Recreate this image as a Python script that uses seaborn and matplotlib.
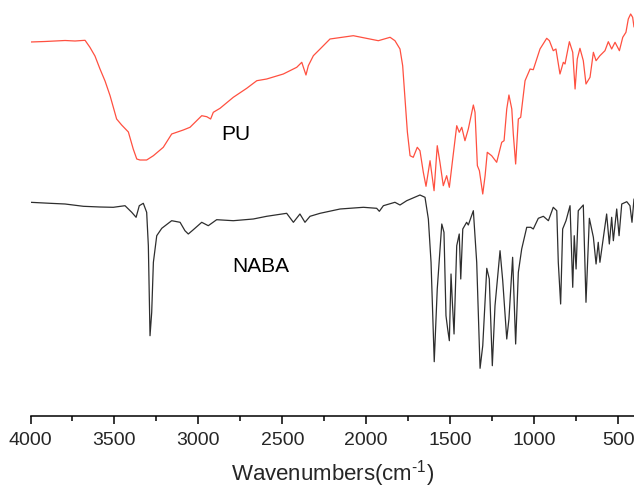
import matplotlib
matplotlib.use("Agg")
import matplotlib.pyplot as plt
import seaborn as sns
import pandas as pd
from matplotlib.ticker import MultipleLocator

# PU spectrum (wavenumber, transmittance a.u.)
pu_wn = [4000, 3914, 3854, 3794, 3735, 3675, 3646, 3616, 3586, 3556, 3526, 3487, 3457, 3417, 3388, 3367,
         3348, 3308, 3268, 3209, 3159, 3090, 3050, 2980, 2950, 2927, 2911, 2871, 2792, 2712,
         2652, 2593, 2494, 2414, 2384, 2371, 2359, 2345, 2315, 2275, 2216, 2077, 1928, 1858,
         1829, 1799, 1783, 1769, 1755, 1739, 1720, 1696, 1680, 1660, 1644, 1620, 1596, 1577,
         1561, 1541, 1521, 1505, 1485, 1461, 1446, 1431, 1412, 1392, 1362, 1352, 1338, 1326,
         1306, 1292, 1279, 1253, 1223, 1193, 1179, 1163, 1150, 1133, 1124, 1110, 1094, 1080,
         1054, 1024, 1005, 965, 925, 909, 886, 870, 846, 826, 816, 790, 770, 756, 743, 727,
         707, 691, 667, 647, 631, 608, 578, 558, 538, 518, 492, 472, 453, 439, 425, 413, 405]
pu_t = [373, 373.5, 374, 374.5, 374, 374.7, 367.7, 359, 346, 334, 319.3, 296, 290, 283, 266, 256,
        255, 255, 259.3, 267.7, 281, 285, 287.7, 299.3, 298.3, 296, 302.7, 306.7, 317.7, 326.7,
        334.3, 336, 341, 347.7, 352.7, 346, 340, 349.3, 359.3, 366, 376, 379.3, 374.3, 377.7,
        374.3, 366, 349.3, 316, 283, 259.3, 257.7, 267.7, 264.3, 242.7, 228.7, 254.3, 224.3, 269.3,
        252.7, 229.3, 239.3, 227.7, 256, 289.3, 282.7, 287.7, 274.3, 286, 310, 302.7, 249.3, 244.3,
        221, 239.3, 262.7, 259.3, 252.7, 272.7, 274.3, 306, 320, 306, 281, 251, 296, 297.7,
        334.3, 346, 345.3, 366, 376.7, 374.3, 364.3, 366, 341, 352.7, 351, 373.3, 362.7, 326, 356, 366.7,
        354.3, 331, 337.7, 362.7, 354.3, 359.3, 364.3, 373.3, 366, 372.7, 364.3, 377.7, 382.7, 396, 401, 397.7, 388]

# NABA spectrum
naba_wn = [4000, 3884, 3794, 3685, 3586, 3507, 3437, 3397, 3371, 3352, 3328, 3308, 3298, 3288,
           3278, 3268, 3248, 3218, 3159, 3109, 3080, 3060, 3030, 2980, 2941, 2891, 2792, 2673,
           2593, 2474, 2434, 2395, 2365, 2335, 2275, 2156, 2017, 1938, 1922, 1898, 1829, 1799,
           1759, 1680, 1650, 1630, 1614, 1595, 1577, 1550, 1537, 1525, 1515, 1505, 1495, 1487,
           1477, 1461, 1446, 1437, 1425, 1402, 1392, 1362, 1342, 1322, 1306, 1282, 1267, 1249,
           1233, 1203, 1187, 1163, 1150, 1128, 1110, 1094, 1074, 1044, 1020, 1005, 975, 945,
           915, 886, 865, 856, 842, 830, 810, 786, 770, 761, 750, 737, 707, 691, 671, 647,
           631, 618, 608, 568, 552, 538, 528, 508, 494, 478, 448, 429, 417, 405]
naba_t = [212.7, 211.7, 211, 208.7, 208, 207.7, 209.3, 202.7, 197.7, 209.3, 211.7, 202.7, 169.3, 79.3,
          102.7, 152.7, 179.3, 186.7, 194.3, 192.7, 184.3, 181, 185.3, 192.7, 189.3, 195.3, 194.3, 196,
          198.7, 201.7, 192.7, 201, 192.7, 198.7, 201.7, 206, 207.7, 206.7, 203.7, 209.3, 212.7, 210,
          214.3, 220, 217.7, 196, 152.7, 53.3, 126, 191, 182.7, 99.3, 86, 74.3, 141, 112.7,
          81, 169.3, 181, 136, 186, 192.7, 190, 204.3, 152.7, 46.7, 69.3, 146.7, 136, 49.3,
          109.3, 164.3, 134.3, 76, 96, 157.7, 71, 142.7, 166, 187.7, 187.7, 186, 196.7, 198.7,
          194.3, 207.7, 204.3, 152.7, 111, 186, 194.3, 209.3, 127.7, 179.3, 146, 204.3, 210, 112.7, 196.7, 177.7,
          151, 172.7, 152.7, 201, 171, 197.7, 174.3, 206, 179.3, 211, 213.3, 209.3, 192.7, 216]

labels = ["PU", "NABA"]
label_x = [2777, 2628]
label_y = [281, 149]

sns.set_theme(style="white")
plt.rcParams['font.family'] = ['Liberation Sans', 'DejaVu Sans']
plt.rcParams['mathtext.fontset'] = 'custom'
plt.rcParams['mathtext.rm'] = 'Liberation Sans'
plt.rcParams['mathtext.default'] = 'regular'

fig = plt.figure(figsize=(6.34, 4.89), dpi=100)
ax = fig.add_axes([30.5 / 634, 72.5 / 489, (634 - 30.5) / 634, 416.5 / 489])

pu = pd.DataFrame({"wn": pu_wn, "t": pu_t})
naba = pd.DataFrame({"wn": naba_wn, "t": naba_t})
sns.lineplot(data=pu, x="wn", y="t", ax=ax, color="#ff5040", linewidth=0.9,
             estimator=None, solid_joinstyle="round")
sns.lineplot(data=naba, x="wn", y="t", ax=ax, color="#2e2e2e", linewidth=0.9,
             estimator=None, solid_joinstyle="round")

for lab, lx, ly in zip(labels, label_x, label_y):
    ax.text(lx, ly, lab, fontsize=15, ha="center", va="center", color="black")

ax.set_xlim(4000, 405)
ax.set_ylim(-0.5, 416)
ax.xaxis.set_major_locator(MultipleLocator(500))
ax.xaxis.set_minor_locator(MultipleLocator(250))
ax.tick_params(axis="x", which="major", direction="out", length=6, width=1.1,
               labelsize=14, pad=5, bottom=True, color="black")
ax.tick_params(axis="x", which="minor", direction="out", length=3.5, width=1.1,
               bottom=True, color="black")
ax.set_yticks([])
ax.set_ylabel("")
ax.set_xlabel("Wavenumbers(cm$^{\\text{-}1}$)", fontsize=16, labelpad=7)
for s in ["left", "right", "top"]:
    ax.spines[s].set_visible(False)
ax.spines["bottom"].set_color("black")
ax.spines["bottom"].set_linewidth(1.1)
ax.patch.set_alpha(0)

fig.savefig("out.png", dpi=100)
